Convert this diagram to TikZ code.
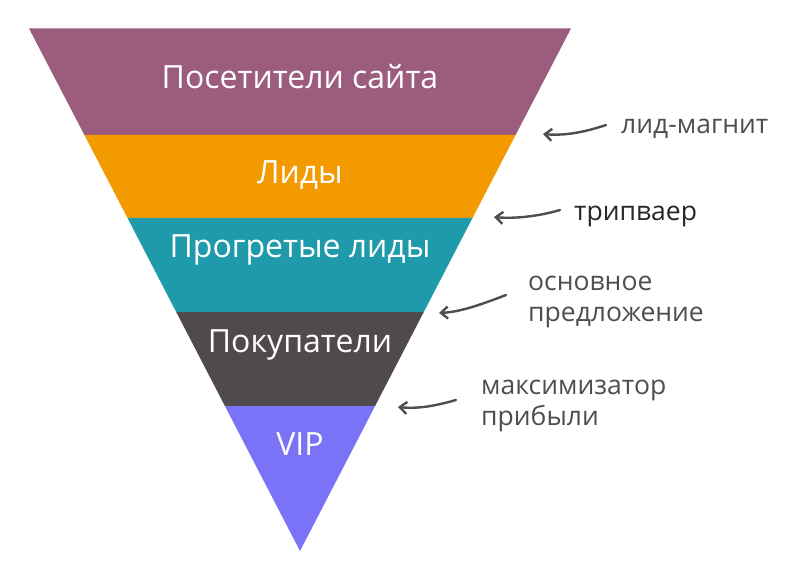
\documentclass[tikz,border=0pt]{standalone}
\usepackage{fontspec}
\setmainfont{Open Sans}
\usetikzlibrary{arrows.meta}
\definecolor{cPurple}{HTML}{9C5C7E}
\definecolor{cOrange}{HTML}{F29A00}
\definecolor{cTeal}{HTML}{1E9AAA}
\definecolor{cDark}{HTML}{504A4F}
\definecolor{cViolet}{HTML}{7B73F7}
\definecolor{cGrey}{HTML}{4E4E4E}
\tikzset{
  bandlabel/.style={text=white, font=\fontsize{32}{35}\selectfont, anchor=center, inner sep=0pt},
  sidelabel/.style={text=cGrey, font=\fontsize{26.5}{31}\selectfont, anchor=west, align=left, inner sep=0pt},
  pointer/.style={draw=cGrey, line width=2.4pt, line cap=round, -{Straight Barb[length=7pt,width=12pt,line width=2.4pt]}}
}
\begin{document}
\begin{tikzpicture}[x=1pt,y=-1pt]
\useasboundingbox (0,0) rectangle (800,569);
\fill[cPurple] (29,28.5) -- (571,28.5) -- (515.6,135) -- (84.4,135) -- cycle;
\fill[cOrange] (84.4,135) -- (515.6,135) -- (472.5,218) -- (127.5,218) -- cycle;
\fill[cTeal] (127.5,218) -- (472.5,218) -- (423.8,312) -- (176.2,312) -- cycle;
\fill[cDark] (176.2,312) -- (423.8,312) -- (375.1,406) -- (224.9,406) -- cycle;
\fill[cViolet] (224.9,406) -- (375.1,406) -- (300,551) -- cycle;

\node[bandlabel] (b1) at (300,77) {Посетители сайта};
\node[bandlabel] (b2) at (300,175) {Лиды};
\node[bandlabel] (b3) at (300,250) {Прогретые лиды};
\node[bandlabel] (b4) at (300,345) {Покупатели};
\node[bandlabel] (b5) at (300,444) {VIP};

\node[sidelabel] (s1) at (621,129) {лид-магнит};
\node[sidelabel, text=black!85] (s2) at (574,216) {трипваер};
\node[sidelabel] (s3) at (528,302) {основное\\предложение};
\node[sidelabel] (s4) at (481,406) {максимизатор\\прибыли};

\coordinate (a1s) at (606,125);
\coordinate (a1e) at (543,134);
\coordinate (a2s) at (560,210);
\coordinate (a2e) at (494,217);
\coordinate (a3s) at (506,295);
\coordinate (a3e) at (439,313);
\coordinate (a4s) at (456,400);
\coordinate (a4e) at (398,407);

\draw[pointer] (a1s) .. controls (585,132) and (565,136) .. (a1e);
\draw[pointer] (a2s) .. controls (540,216) and (515,219) .. (a2e);
\draw[pointer] (a3s) .. controls (480,305) and (460,312) .. (a3e);
\draw[pointer] (a4s) .. controls (435,406) and (418,409) .. (a4e);
\end{tikzpicture}
\end{document}
